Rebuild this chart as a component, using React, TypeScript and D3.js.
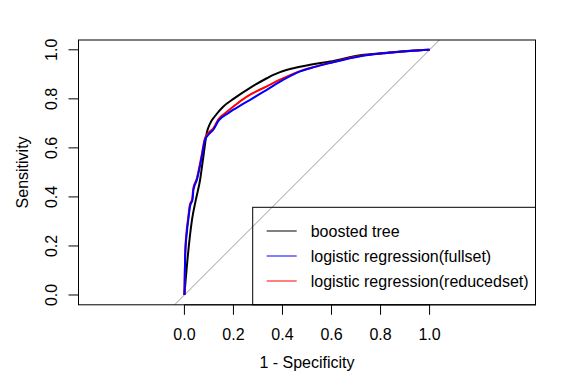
import React from "react";
import * as d3 from "d3";

// ROC curve data: false positive rate (1 - specificity) and sensitivity
const boostedFpr = [0, 0.014, 0.031, 0.047, 0.064, 0.078, 0.091, 0.105, 0.125, 0.159, 0.2, 0.268, 0.336, 0.363, 0.39, 0.445, 0.513, 0.594, 0.717, 0.825, 0.92, 1];
const boostedSens = [0, 0.16, 0.307, 0.39, 0.47, 0.57, 0.66, 0.7, 0.73, 0.769, 0.8, 0.845, 0.884, 0.898, 0.909, 0.925, 0.939, 0.952, 0.978, 0.988, 0.996, 1];

const fullFpr = [0, 0.003, 0.01, 0.016, 0.023, 0.033, 0.037, 0.051, 0.071, 0.084, 0.098, 0.118, 0.14, 0.179, 0.2, 0.234, 0.268, 0.336, 0.404, 0.472, 0.513, 0.594, 0.717, 0.825, 0.92, 1];
const fullSens = [0, 0.158, 0.255, 0.308, 0.362, 0.389, 0.43, 0.47, 0.565, 0.633, 0.654, 0.674, 0.712, 0.742, 0.756, 0.776, 0.796, 0.837, 0.878, 0.912, 0.925, 0.946, 0.974, 0.987, 0.995, 1];

const reducedFpr = [0, 0.003, 0.009, 0.015, 0.022, 0.032, 0.036, 0.05, 0.07, 0.083, 0.097, 0.118, 0.14, 0.167, 0.2, 0.234, 0.268, 0.336, 0.39, 0.472, 0.513, 0.594, 0.717, 0.825, 0.92, 1];
const reducedSens = [0, 0.162, 0.262, 0.312, 0.366, 0.393, 0.434, 0.473, 0.568, 0.636, 0.66, 0.68, 0.718, 0.742, 0.769, 0.795, 0.817, 0.851, 0.878, 0.913, 0.926, 0.947, 0.975, 0.987, 0.995, 1];

const xTicks = [0, 0.2, 0.4, 0.6, 0.8, 1.0];
const yTicks = [0, 0.2, 0.4, 0.6, 0.8, 1.0];
const legendLabels = ["boosted tree", "logistic regression(fullset)", "logistic regression(reducedset)"];
const legendColors = ["#000000", "#0000FF", "#FF0000"];

const W = 576;
const H = 384;
const left = 78.5, right = 535.5, top = 40, bottom = 304.8;
const FONT = "'Liberation Sans', Arial, Helvetica, sans-serif";

export default function App() {
  const x = d3.scaleLinear().domain([-0.432, 1.432]).range([left, right]);
  const y = d3.scaleLinear().domain([-0.04, 1.04]).range([bottom, top]);
  const line = d3
    .line<[number, number]>()
    .x((d) => x(d[0]))
    .y((d) => y(d[1]))
    .curve(d3.curveMonotoneX);

  const zip = (a: number[], b: number[]) => a.map((v, i) => [v, b[i]] as [number, number]);
  const series = [
    { pts: zip(boostedFpr, boostedSens), color: legendColors[0] },
    { pts: zip(reducedFpr, reducedSens), color: legendColors[2] },
    { pts: zip(fullFpr, fullSens), color: legendColors[1] },
  ];

  const legLeft = 252.7;
  const legTop = 207.3;
  const rowY = [231, 256, 281];

  return (
    <svg
      width={W}
      height={H}
      style={{ position: "absolute", left: 0, top: 0, background: "#fff" }}
      fontFamily={FONT}
    >
      <defs>
        <clipPath id="plotclip">
          <rect x={left} y={top} width={right - left} height={bottom - top} />
        </clipPath>
      </defs>
      <rect x={0} y={0} width={W} height={H} fill="#fff" />
      {/* diagonal */}
      <g clipPath="url(#plotclip)">
        <line x1={x(-0.1)} y1={y(-0.1)} x2={x(1.1)} y2={y(1.1)} stroke="#999999" strokeWidth={1} />
        {series.map((s, i) => (
          <path key={i} d={line(s.pts) || ""} fill="none" stroke={s.color} strokeWidth={2} strokeLinejoin="round" />
        ))}
      </g>
      {/* legend */}
      <rect x={legLeft} y={legTop} width={right - legLeft} height={bottom - legTop} fill="none" stroke="#000" strokeWidth={1} />
      {legendLabels.map((lab, i) => (
        <g key={lab}>
          <line x1={266.7} x2={296.7} y1={rowY[i]} y2={rowY[i]} stroke={legendColors[i]} strokeWidth={1} />
          <text x={310.7} y={rowY[i]} dy="0.35em" fontSize={16} fill="#000">
            {lab}
          </text>
        </g>
      ))}
      {/* box */}
      <rect x={left} y={top} width={right - left} height={bottom - top} fill="none" stroke="#000" strokeWidth={1} />
      {/* x axis */}
      <line x1={x(0)} x2={x(1)} y1={bottom} y2={bottom} stroke="#000" />
      {xTicks.map((t) => (
        <g key={"x" + t}>
          <line x1={x(t)} x2={x(t)} y1={bottom} y2={bottom + 10} stroke="#000" />
          <text x={x(t)} y={340} textAnchor="middle" fontSize={16} fill="#000">
            {t.toFixed(1)}
          </text>
        </g>
      ))}
      <text x={(left + right) / 2} y={368.2} textAnchor="middle" fontSize={16} fill="#000">
        1 - Specificity
      </text>
      {/* y axis */}
      <line x1={left} x2={left} y1={y(0)} y2={y(1)} stroke="#000" />
      {yTicks.map((t) => (
        <g key={"y" + t}>
          <line x1={left - 10} x2={left} y1={y(t)} y2={y(t)} stroke="#000" />
          <text
            transform={`translate(56.5,${y(t)}) rotate(-90)`}
            textAnchor="middle"
            fontSize={16}
            fill="#000"
          >
            {t.toFixed(1)}
          </text>
        </g>
      ))}
      <text
        transform={`translate(27.5,${(top + bottom) / 2}) rotate(-90)`}
        textAnchor="middle"
        fontSize={16}
        fill="#000"
      >
        Sensitivity
      </text>
    </svg>
  );
}
